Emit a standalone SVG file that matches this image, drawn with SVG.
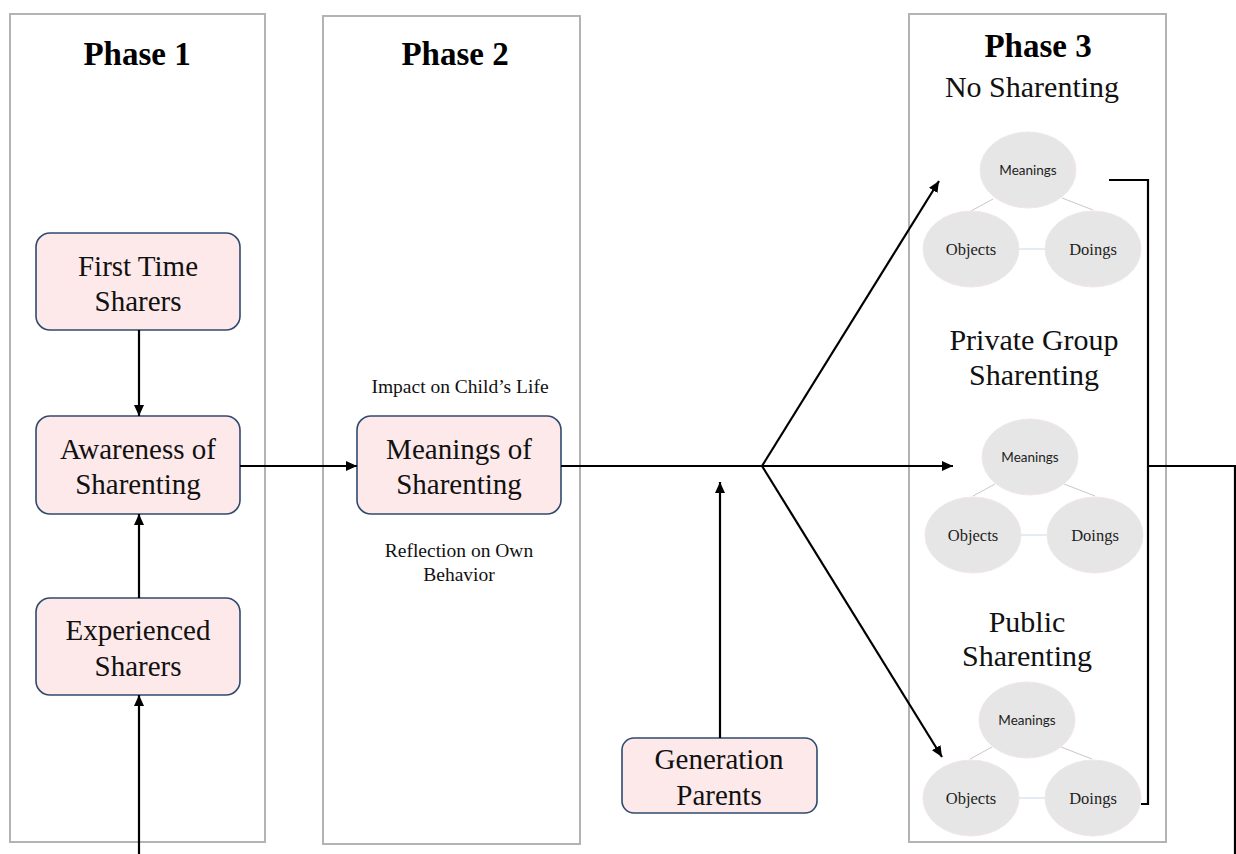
<svg xmlns="http://www.w3.org/2000/svg" width="1236" height="854" viewBox="0 0 1236 854">
<style>
.phase{fill:#ffffff;stroke:#b3b3b3;stroke-width:2}
.node{fill:#fde9ea;stroke:#2f4a6e;stroke-width:1.6}
.ntext{font-family:"Liberation Serif",serif;font-size:29px;fill:#111;text-anchor:middle}
.ptitle{font-family:"Liberation Serif",serif;font-size:33px;font-weight:bold;fill:#000;text-anchor:middle}
.sub{font-family:"Liberation Serif",serif;font-size:30px;fill:#111;text-anchor:middle}
.small{font-family:"Liberation Serif",serif;font-size:19.5px;fill:#111;text-anchor:middle}
.conn{fill:none;stroke:#000;stroke-width:2.2}
.ell{fill:#e6e6e6;stroke:#f3e6ea;stroke-width:1}
.eline{stroke:#c8c8c8;stroke-width:1}
.eline2{stroke:#c9d6ee;stroke-width:1}
.etm{font-family:Lato,"Open Sans",sans-serif;font-size:13.5px;fill:#222;text-anchor:middle}
.ets{font-family:"Liberation Serif",serif;font-size:16.5px;fill:#222;text-anchor:middle}
</style>
<defs>
<marker id="arr" markerUnits="userSpaceOnUse" markerWidth="11" markerHeight="10" refX="11" refY="5" orient="auto">
<path d="M0,0 L11,5 L0,10 z" fill="#000"/>
</marker>
</defs>
<g id="phase1">
<rect class="phase" x="10" y="14" width="255" height="828"/>
<text class="ptitle" x="137" y="65">Phase 1</text>
</g>
<g id="phase2">
<rect class="phase" x="323" y="16" width="257" height="828"/>
<text class="ptitle" x="455" y="65">Phase 2</text>
<text class="small" x="460" y="393">Impact on Child’s Life</text>
<text class="small" x="459" y="557">Reflection on Own</text>
<text class="small" x="459" y="581">Behavior</text>
</g>
<g id="phase3">
<rect class="phase" x="909" y="14" width="257" height="828"/>
<text class="ptitle" x="1038" y="57">Phase 3</text>
<text class="sub" x="1032" y="97">No Sharenting</text>
<text class="sub" x="1034" y="350">Private Group</text>
<text class="sub" x="1034" y="385">Sharenting</text>
<text class="sub" x="1027" y="632">Public</text>
<text class="sub" x="1027" y="666">Sharenting</text>
</g>
<g id="first-time-sharers">
<rect class="node" x="36" y="233" width="204" height="97" rx="14"/>
<text class="ntext" x="138" y="276">First Time</text>
<text class="ntext" x="138" y="311">Sharers</text>
</g>
<g id="awareness">
<rect class="node" x="36" y="416" width="204" height="98" rx="14"/>
<text class="ntext" x="138" y="459">Awareness of</text>
<text class="ntext" x="138" y="494">Sharenting</text>
</g>
<g id="experienced-sharers">
<rect class="node" x="36" y="598" width="204" height="97" rx="14"/>
<text class="ntext" x="138" y="640">Experienced</text>
<text class="ntext" x="138" y="676">Sharers</text>
</g>
<g id="meanings">
<rect class="node" x="357" y="416" width="204" height="98" rx="14"/>
<text class="ntext" x="459" y="459">Meanings of</text>
<text class="ntext" x="459" y="494">Sharenting</text>
</g>
<g id="generation-parents">
<rect class="node" x="622" y="738" width="195" height="75" rx="12"/>
<text class="ntext" x="719" y="769">Generation</text>
<text class="ntext" x="719" y="805">Parents</text>
</g>
<g id="cluster-no">
<line class="eline" x1="971" y1="211" x2="993" y2="199"/>
<line class="eline" x1="1062" y1="198" x2="1093" y2="210"/>
<line class="eline2" x1="1019" y1="249" x2="1046" y2="249"/>
<ellipse class="ell" cx="1028" cy="170" rx="48" ry="38"/>
<ellipse class="ell" cx="971" cy="249" rx="48" ry="38"/>
<ellipse class="ell" cx="1093" cy="249" rx="48" ry="38"/>
<text class="etm" x="1028" y="175">Meanings</text>
<text class="ets" x="971" y="255">Objects</text>
<text class="ets" x="1093" y="255">Doings</text>
</g>
<g id="cluster-private">
<line class="eline" x1="973" y1="496" x2="995" y2="484"/>
<line class="eline" x1="1064" y1="484" x2="1095" y2="496"/>
<line class="eline2" x1="1021" y1="535" x2="1047" y2="535"/>
<ellipse class="ell" cx="1030" cy="457" rx="48" ry="38"/>
<ellipse class="ell" cx="973" cy="535" rx="48" ry="38"/>
<ellipse class="ell" cx="1095" cy="535" rx="48" ry="38"/>
<text class="etm" x="1030" y="462">Meanings</text>
<text class="ets" x="973" y="541">Objects</text>
<text class="ets" x="1095" y="541">Doings</text>
</g>
<g id="cluster-public">
<line class="eline" x1="970" y1="759" x2="992" y2="747"/>
<line class="eline" x1="1061" y1="747" x2="1092" y2="759"/>
<line class="eline2" x1="1019" y1="798" x2="1045" y2="798"/>
<ellipse class="ell" cx="1027" cy="720" rx="48" ry="38"/>
<ellipse class="ell" cx="971" cy="798" rx="48" ry="38"/>
<ellipse class="ell" cx="1093" cy="798" rx="48" ry="38"/>
<text class="etm" x="1027" y="725">Meanings</text>
<text class="ets" x="971" y="804">Objects</text>
<text class="ets" x="1093" y="804">Doings</text>
</g>
<g id="connectors">
<line class="conn" x1="139" y1="330" x2="139" y2="416" marker-end="url(#arr)"/>
<line class="conn" x1="139" y1="598" x2="139" y2="514" marker-end="url(#arr)"/>
<line class="conn" x1="139" y1="854" x2="139" y2="695" marker-end="url(#arr)"/>
<line class="conn" x1="240" y1="466" x2="357" y2="466" marker-end="url(#arr)"/>
<line class="conn" x1="561" y1="466" x2="762" y2="466"/>
<line class="conn" x1="762" y1="466" x2="953" y2="466" marker-end="url(#arr)"/>
<line class="conn" x1="762" y1="466" x2="939" y2="181" marker-end="url(#arr)"/>
<line class="conn" x1="762" y1="466" x2="942" y2="757" marker-end="url(#arr)"/>
<line class="conn" x1="720" y1="738" x2="720" y2="482" marker-end="url(#arr)"/>
<polyline class="conn" points="1109,180 1148,180 1148,804 1141,804"/>
<polyline class="conn" points="1148,466 1235,466 1235,854"/>
</g>
</svg>
